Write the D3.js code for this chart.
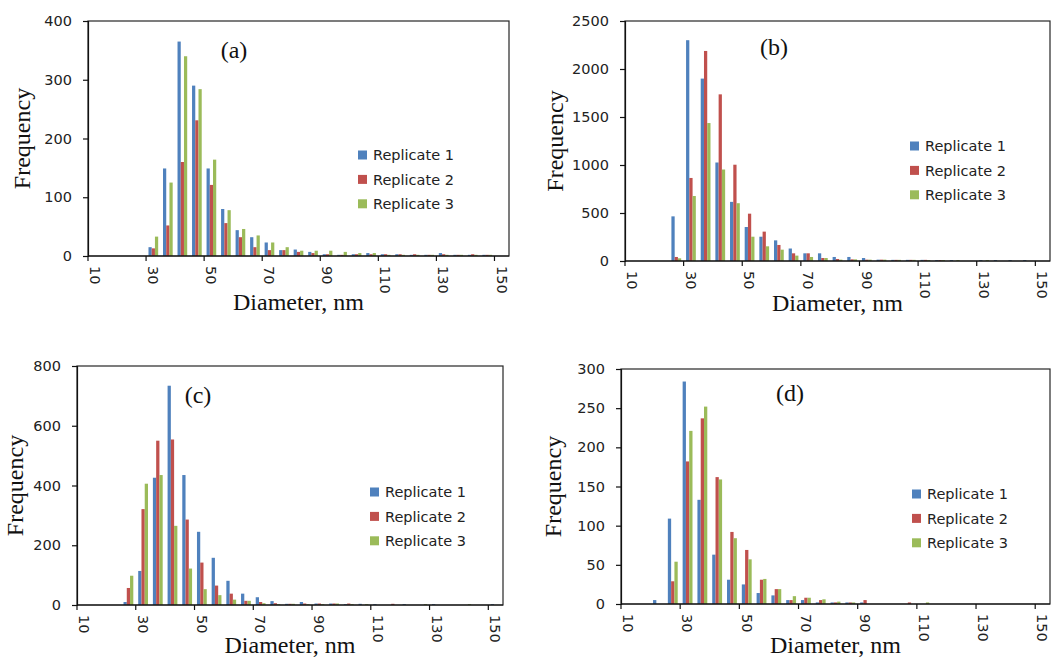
<!DOCTYPE html>
<html>
<head>
<meta charset="utf-8">
<script src="https://cdn.jsdelivr.net/npm/d3@7"></script>
<style>
  html, body { margin: 0; padding: 0; background: #fff; }
  svg { display: block; }
</style>
</head>
<body>
<svg id="chart" width="1060" height="660"></svg>
<script>
// ---------- DATA ----------
const categories = [10,15,20,25,30,35,40,45,50,55,60,65,70,75,80,85,90,95,100,105,110,115,120,125,130,135,140,145,150];
const xTickLabels = ["10","30","50","70","90","110","130","150"];
const seriesNames = ["Replicate 1","Replicate 2","Replicate 3"];

// Panel (a)
const a_rep1 = [0,0,0,0,15,149,365,290,149,80,44,32,23,10,11,7,3,2,3,5,3,3,2,2,5,2,2,2,0];
const a_rep2 = [0,0,0,0,13,52,160,231,121,56,32,15,10,10,7,5,3,2,3,3,3,3,3,2,3,2,3,2,0];
const a_rep3 = [0,0,0,0,33,125,340,284,164,78,46,35,23,15,9,9,9,7,5,5,2,2,2,2,2,2,2,2,0];
const a_yTicks = [0,100,200,300,400];

// Panel (b)
const b_rep1 = [0,0,0,465,2300,1900,1026,616,354,253,215,130,80,80,42,42,31,14,12,12,12,10,10,0,10,10,10,10,0];
const b_rep2 = [0,0,0,42,865,2188,1736,1003,493,306,167,80,80,31,21,17,14,14,12,12,12,10,0,0,0,0,0,0,0];
const b_rep3 = [0,0,0,28,677,1437,953,602,253,153,118,56,42,31,14,17,14,14,12,12,10,10,10,0,10,0,0,0,0];
const b_yTicks = [0,500,1000,1500,2000,2500];

// Panel (c)
const c_rep1 = [0,0,0,10,114,426,734,435,245,158,81,38,26,13,4,10,5,5,3,4,3,0,3,0,3,0,0,0,3];
const c_rep2 = [0,0,0,57,321,550,554,286,142,65,38,14,10,6,4,5,5,5,5,0,0,4,0,0,0,0,0,0,0];
const c_rep3 = [0,0,0,98,406,435,265,122,53,33,18,14,6,3,4,3,3,5,3,3,0,0,0,3,0,0,3,0,0];
const c_yTicks = [0,200,400,600,800];

// Panel (d)
const d_rep1 = [0,0,5,109,284,133,63,31,25,14,11,5,5,2,2,2,2,0,0,0,0,0,0,0,0,0,0,0,0];
const d_rep2 = [0,0,0,29,182,237,162,92,69,31,19,5,8,5,2,2,5,0,0,2,0,0,0,0,0,0,0,0,0];
const d_rep3 = [0,0,0,54,221,252,159,84,57,32,19,10,8,6,3,2,0,0,0,0,2,0,0,0,0,0,0,0,0];
const d_yTicks = [0,50,100,150,200,250,300];

// ---------- LAYOUT ----------
const colors = ["#4F81BD","#C0504D","#9BBB59"];
const sansFont = "'DejaVu Sans', sans-serif";
const serifFont = "'Liberation Serif', 'Times New Roman', serif";

const panels = [
  { label:"(a)", series:[a_rep1,a_rep2,a_rep3], yTicks:a_yTicks,
    left:88, top:21, right:509, bottom:256,
    labelX:234, labelY:58, legendX:358, legendY:155,
    yTitleX:30, xTitleY:310 },
  { label:"(b)", series:[b_rep1,b_rep2,b_rep3], yTicks:b_yTicks,
    left:625, top:21, right:1050, bottom:261,
    labelX:774, labelY:55, legendX:910, legendY:146,
    yTitleX:563, xTitleY:311 },
  { label:"(c)", series:[c_rep1,c_rep2,c_rep3], yTicks:c_yTicks,
    left:77, top:366, right:503, bottom:605,
    labelX:198, labelY:403, legendX:370, legendY:492,
    yTitleX:23, xTitleY:653 },
  { label:"(d)", series:[d_rep1,d_rep2,d_rep3], yTicks:d_yTicks,
    left:621, top:369, right:1050, bottom:604,
    labelX:790, labelY:401, legendX:912, legendY:494,
    yTitleX:561, xTitleY:653 }
];

const svg = d3.select("#chart");

panels.forEach(p => {
  const g = svg.append("g");

  const x = d3.scaleBand().domain(categories).range([p.left, p.right]).padding(0);
  const bw = x.bandwidth();
  const xs = d3.scaleBand().domain([0,1,2]).range([bw/6, bw*5/6]).padding(0);
  const y = d3.scaleLinear().domain([0, d3.max(p.yTicks)]).range([p.bottom, p.top]);

  // bars
  p.series.forEach((vals, si) => {
    g.append("g").selectAll("rect")
      .data(categories.map((c, i) => ({c, v: vals[i]})).filter(d => d.v > 0))
      .join("rect")
      .attr("x", d => x(d.c) + xs(si))
      .attr("y", d => y(d.v))
      .attr("width", xs.bandwidth())
      .attr("height", d => p.bottom - y(d.v))
      .attr("fill", colors[si]);
  });

  // frame
  g.append("rect")
    .attr("x", p.left).attr("y", p.top)
    .attr("width", p.right - p.left).attr("height", p.bottom - p.top)
    .attr("fill", "none").attr("stroke", "#262626").attr("stroke-width", 1.2);

  // y axis ticks
  const yAxis = d3.axisLeft(y).tickValues(p.yTicks).tickSize(5).tickPadding(11).tickFormat(d3.format("d"));
  const ya = g.append("g").attr("transform", `translate(${p.left},0)`).call(yAxis);
  ya.select(".domain").attr("stroke", "#111").attr("stroke-width", 1.2);
  ya.selectAll(".tick line").attr("stroke", "#111").attr("stroke-width", 1.2);
  ya.selectAll(".tick text").attr("font-family", sansFont).attr("font-size", 14.5).attr("fill", "#222");

  // x axis: tick marks at left boundary of labelled categories, labels at category centers
  const tickCats = xTickLabels.map(Number);
  const xa = g.append("g");
  xa.append("line")
    .attr("x1", p.left).attr("x2", p.right).attr("y1", p.bottom).attr("y2", p.bottom)
    .attr("stroke", "#111").attr("stroke-width", 1.2);
  xa.selectAll("line.tk").data(tickCats).join("line").attr("class","tk")
    .attr("x1", d => x(d)).attr("x2", d => x(d))
    .attr("y1", p.bottom).attr("y2", p.bottom + 5)
    .attr("stroke", "#111").attr("stroke-width", 1.2);
  xa.selectAll("text").data(xTickLabels).join("text")
    .attr("transform", d => `translate(${x(+d) + bw/2},${p.bottom + 10}) rotate(90)`)
    .attr("dy", "0.36em")
    .attr("text-anchor", "start")
    .attr("font-family", sansFont).attr("font-size", 14.5).attr("fill", "#222")
    .text(d => d);

  // axis titles
  g.append("text")
    .attr("x", (p.left + p.right) / 2).attr("y", p.xTitleY)
    .attr("text-anchor", "middle")
    .attr("font-family", serifFont).attr("font-size", 24).attr("fill", "#111")
    .text("Diameter, nm");
  g.append("text")
    .attr("transform", `translate(${p.yTitleX},${(p.top + p.bottom) / 2}) rotate(-90)`)
    .attr("text-anchor", "middle")
    .attr("font-family", serifFont).attr("font-size", 24).attr("fill", "#111")
    .text("Frequency");

  // panel label
  g.append("text")
    .attr("x", p.labelX).attr("y", p.labelY)
    .attr("text-anchor", "middle")
    .attr("font-family", serifFont).attr("font-size", 24).attr("fill", "#111")
    .text(p.label);

  // legend
  const lg = g.append("g").attr("transform", `translate(${p.legendX},${p.legendY})`);
  seriesNames.forEach((name, i) => {
    const row = lg.append("g").attr("transform", `translate(0,${i * 24.4})`);
    row.append("rect").attr("x", 0).attr("y", -4.5).attr("width", 9).attr("height", 9).attr("fill", colors[i]);
    row.append("text").attr("x", 15).attr("y", 0).attr("dy", "0.36em")
      .attr("font-family", sansFont).attr("font-size", 14.5).attr("fill", "#222")
      .text(name);
  });
});
</script>
</body>
</html>
